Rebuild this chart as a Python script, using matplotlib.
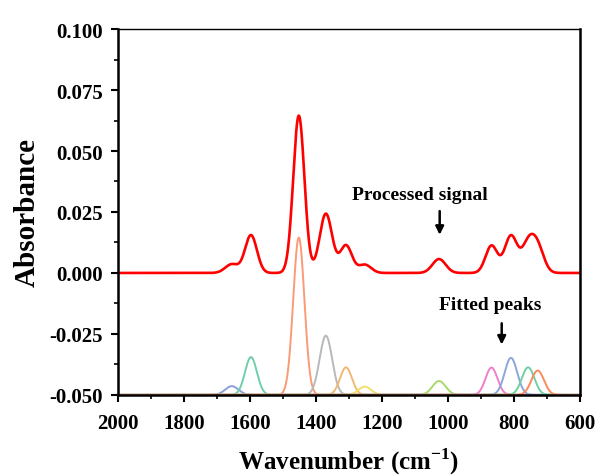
import numpy as np
import matplotlib
matplotlib.use('Agg')
import matplotlib.pyplot as plt
from matplotlib.ticker import MultipleLocator

# fitted gaussian peaks
peak_centers = [1655, 1597, 1452, 1370, 1309, 1252, 1027, 868, 809, 757, 728]
peak_heights = [0.0036, 0.0155, 0.0645, 0.0243, 0.0113, 0.0034, 0.0057, 0.0112, 0.0152, 0.0113, 0.0100]
peak_sigmas = [20, 18, 17, 19, 18, 19, 20, 18, 19, 19, 19]
peak_colors = ['#8c9fd6', '#6fcfa8', '#fb9a77', '#b8b8b8', '#f2b774', '#f3e06a',
               '#a9d96a', '#ef7fc8', '#8ea4dd', '#6fd0a5', '#fa8b5b']
fit_baseline = -0.05

plt.rcParams['font.family'] = ['Liberation Serif', 'DejaVu Serif']
plt.rcParams['font.weight'] = 'bold'
plt.rcParams['mathtext.fontset'] = 'custom'
plt.rcParams['mathtext.bf'] = 'Liberation Serif:bold'
plt.rcParams['mathtext.rm'] = 'Liberation Serif:bold'

wn = np.linspace(2000, 600, 2801)
peaks = [h * np.exp(-(wn - c) ** 2 / (2 * s ** 2))
         for c, h, s in zip(peak_centers, peak_heights, peak_sigmas)]
signal = np.sum(peaks, axis=0)

fig = plt.figure(figsize=(5.96, 4.77), dpi=100)
ax = fig.add_axes([0.198, 0.170, 0.775, 0.767])

for p, col in zip(peaks, peak_colors):
    ax.plot(wn, p + fit_baseline, color=col, lw=1.4, clip_on=False)
ax.plot(wn, signal, color='#ff0000', lw=1.9)

ax.set_xlim(2000, 600)
ax.set_ylim(-0.05, 0.10)
ax.xaxis.set_major_locator(MultipleLocator(200))
ax.xaxis.set_minor_locator(MultipleLocator(100))
ax.yaxis.set_major_locator(MultipleLocator(0.025))
ax.yaxis.set_minor_locator(MultipleLocator(0.0125))
ax.yaxis.set_major_formatter(matplotlib.ticker.FormatStrFormatter('%.3f'))
ax.tick_params(which='major', direction='out', length=5, width=1.5, labelsize=15)
ax.tick_params(which='minor', direction='out', length=3, width=1.2)
ax.tick_params(axis='x', pad=8)
ax.tick_params(axis='y', pad=6)

for side in ['left', 'bottom', 'right']:
    ax.spines[side].set_linewidth(1.8)
ax.spines['top'].set_linewidth(1.0)

ax.set_xlabel('Wavenumber (cm$^{-1}$)', fontsize=18, fontweight='bold', labelpad=9)
ax.set_ylabel('Absorbance', fontsize=21, fontweight='bold', labelpad=6)

ax.annotate('', xy=(1025, 0.0145), xytext=(1025, 0.0265),
            arrowprops=dict(arrowstyle='-|>', color='black', lw=1.8, mutation_scale=12))
ax.text(1085, 0.032, 'Processed signal', ha='center', va='center', fontsize=14, fontweight='bold')
ax.annotate('', xy=(837, -0.0305), xytext=(837, -0.0195),
            arrowprops=dict(arrowstyle='-|>', color='black', lw=1.8, mutation_scale=12))
ax.text(873, -0.013, 'Fitted peaks', ha='center', va='center', fontsize=14, fontweight='bold')

fig.savefig('out.png', dpi=100)
